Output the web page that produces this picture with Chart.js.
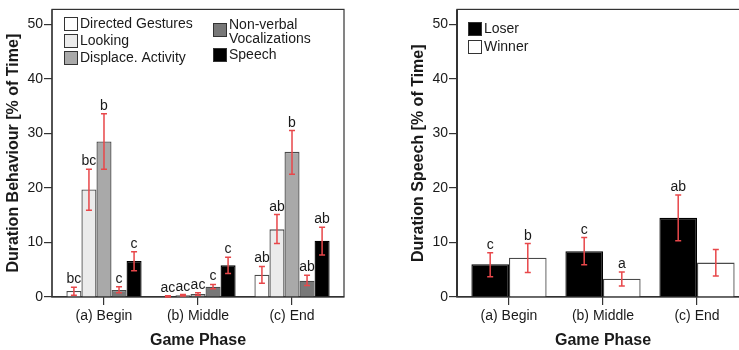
<!DOCTYPE html>
<html>
<head>
<meta charset="utf-8">
<script src="https://cdn.jsdelivr.net/npm/chart.js@4/dist/chart.umd.min.js"></script>
<style>
  html, body { margin: 0; padding: 0; background: #fff; overflow: hidden; width: 739px; height: 350px; }
  canvas { position: absolute; top: 0; }
  #c1 { left: 0; }
  #c2 { left: 405px; }
</style>
</head>
<body>
<canvas id="c1" width="370" height="350"></canvas>
<canvas id="c2" width="370" height="350"></canvas>
<script>
// ---- data ----
const phases = ['(a) Begin', '(b) Middle', '(c) End'];
const yTicks = [0, 10, 20, 30, 40, 50];

// Behaviour panel: mean duration (% of time), whisker ends, and group letters
const behaviourNames = ['Directed Gestures', 'Looking', 'Displace. Activity', 'Non-verbal Vocalizations', 'Speech'];
const directedGestures   = [1.1, 0.1, 4.1];
const directedHi         = [1.8, 0.25, 5.6];
const directedLo         = [0.3, 0.0, 2.5];
const directedLetters    = ['bc', 'ac', 'ab'];

const looking            = [19.7, 0.3, 12.4];
const lookingHi          = [23.4, 0.45, 15.1];
const lookingLo          = [15.9, 0.2, 9.8];
const lookingLetters     = ['bc', 'ac', 'ab'];

const displacement       = [28.5, 0.55, 26.6];
const displacementHi     = [33.6, 0.8, 30.5];
const displacementLo     = [23.4, 0.3, 22.5];
const displacementLetters= ['b', 'ac', 'b'];

const vocalizations      = [1.3, 1.9, 3.0];
const vocalizationsHi    = [1.9, 2.3, 4.0];
const vocalizationsLo    = [0.8, 1.5, 2.1];
const vocalizationsLetters = ['c', 'c', 'ab'];

const speech             = [6.6, 5.8, 10.3];
const speechHi           = [8.3, 7.3, 12.8];
const speechLo           = [4.8, 4.3, 7.7];
const speechLetters      = ['c', 'c', 'ab'];

// Speech panel: loser vs winner
const outcomeNames  = ['Loser', 'Winner'];
const loser         = [6.0, 8.4, 14.5];
const loserHi       = [8.1, 10.9, 18.7];
const loserLo       = [3.7, 5.9, 10.3];
const loserLetters  = ['c', 'c', 'ab'];
const winner        = [7.2, 3.35, 6.3];
const winnerHi      = [9.8, 4.6, 8.7];
const winnerLo      = [4.5, 2.0, 3.85];
const winnerLetters = ['b', 'a', ''];

// ---- styling ----
const FONT = '"Liberation Sans", Arial, Helvetica, sans-serif';
const INK = '#1a1a1a';
const EDGE = '#4a4a4a';
const ERR = '#e8474a';

// whiskers plus significance letters above each bar
const errorBars = {
  id: 'errorBars',
  afterDatasetsDraw(chart) {
    const ctx = chart.ctx;
    const y = chart.scales.y;
    ctx.save();
    chart.data.datasets.forEach((ds, i) => {
      const meta = chart.getDatasetMeta(i);
      meta.data.forEach((bar, j) => {
        const top = y.getPixelForValue(ds.errHi[j]);
        const bot = y.getPixelForValue(ds.errLo[j]);
        const x = bar.x;
        ctx.strokeStyle = ERR;
        ctx.lineWidth = 1.5;
        ctx.beginPath();
        ctx.moveTo(x, top); ctx.lineTo(x, bot);
        ctx.moveTo(x - 3, top); ctx.lineTo(x + 3, top);
        ctx.moveTo(x - 3, bot); ctx.lineTo(x + 3, bot);
        ctx.stroke();
        if (ds.letters[j]) {
          ctx.fillStyle = INK;
          ctx.font = '14px ' + FONT;
          ctx.textAlign = 'center';
          ctx.textBaseline = 'alphabetic';
          ctx.fillText(ds.letters[j], x, top - 4);
        }
      });
    });
    ctx.restore();
  }
};

// plot frame around the chart area
const frame = {
  id: 'frame',
  beforeDatasetsDraw(chart, args, opts) {
    const a = chart.chartArea;
    const ctx = chart.ctx;
    ctx.save();
    ctx.strokeStyle = '#333';
    ctx.lineWidth = 1.2;
    ctx.strokeRect(a.left, a.top, a.right - a.left, a.bottom - a.top);
    ctx.lineWidth = opts.axisWidth || 1.2;
    ctx.beginPath();
    ctx.moveTo(a.left, a.top); ctx.lineTo(a.left, a.bottom);
    ctx.stroke();
    ctx.restore();
  }
};

// a little extra room at both ends of the category axis
const categoryInset = {
  id: 'categoryInset',
  afterLayout(chart, args, opts) {
    const s = chart.scales.x;
    s._startValue -= opts.pad;
    s._valueRange += 2 * opts.pad;
  }
};

// boxed legend drawn inside the plot
const boxLegend = {
  id: 'boxLegend',
  afterDraw(chart, args, opts) {
    const ctx = chart.ctx;
    ctx.save();
    ctx.font = '14px ' + FONT;
    ctx.textBaseline = 'middle';
    ctx.textAlign = 'left';
    opts.items.forEach(it => {
      const ds = chart.data.datasets[it.index];
      ctx.fillStyle = ds.backgroundColor;
      ctx.fillRect(it.x, it.y - 7, 14, 14);
      ctx.strokeStyle = '#333';
      ctx.lineWidth = 1;
      ctx.strokeRect(it.x + 0.5, it.y - 6.5, 13, 13);
      // word-wrap the label to the column width
      const words = ds.label.split(' ');
      const lines = [];
      let cur = '';
      words.forEach(w => {
        const t = cur ? cur + ' ' + w : w;
        if (cur && ctx.measureText(t).width > it.wrap) { lines.push(cur); cur = w; }
        else cur = t;
      });
      lines.push(cur);
      ctx.fillStyle = INK;
      const first = it.y - (lines.length - 1) * 5;
      lines.forEach((ln, k) => ctx.fillText(ln, it.x + 16, first + k * 14));
    });
    ctx.restore();
  }
};

function scales(yTitle) {
  return {
    x: {
      type: 'category',
      offset: true,
      grid: { display: true, drawOnChartArea: false, offset: false, tickLength: 8, color: '#333', lineWidth: 1.2 },
      border: { display: true, color: '#333', width: 1.2 },
      ticks: { font: { family: FONT, size: 14 }, color: INK, padding: 3, maxRotation: 0 },
      title: { display: true, text: 'Game Phase', color: INK, font: { family: FONT, size: 16, weight: 'bold' }, padding: { top: 0, bottom: 0 } },
      afterFit: s => { s.height = 53; }
    },
    y: {
      min: 0,
      max: 52.7,
      afterBuildTicks: s => { s.ticks = yTicks.map(v => ({ value: v })); },
      grid: { display: true, drawOnChartArea: false, tickLength: 8, color: '#333', lineWidth: 1.2 },
      border: { display: false },
      ticks: { font: { family: FONT, size: 14 }, color: INK, padding: 1 },
      title: { display: true, text: yTitle, color: INK, font: { family: FONT, size: 16, weight: 'bold' }, padding: { top: 4, bottom: 0 } },
      afterFit: s => { s.width = 52; }
    }
  };
}

function bars(label, values, hi, lo, letters, fill, edge) {
  return {
    label, data: values, errHi: hi, errLo: lo, letters,
    backgroundColor: fill, borderColor: edge, borderWidth: 1.3,
    barPercentage: 1, categoryPercentage: 0.8
  };
}

const common = {
  responsive: false,
  animation: false,
  layout: { padding: { top: 9, right: 26, left: 0, bottom: 0 } }
};

new Chart(document.getElementById('c1'), {
  type: 'bar',
  data: {
    labels: phases,
    datasets: [
      bars(behaviourNames[0], directedGestures, directedHi, directedLo, directedLetters, '#ffffff', EDGE),
      bars(behaviourNames[1], looking, lookingHi, lookingLo, lookingLetters, '#ebebeb', EDGE),
      bars(behaviourNames[2], displacement, displacementHi, displacementLo, displacementLetters, '#a9a9a9', EDGE),
      bars(behaviourNames[3], vocalizations, vocalizationsHi, vocalizationsLo, vocalizationsLetters, '#787878', EDGE),
      bars(behaviourNames[4], speech, speechHi, speechLo, speechLetters, '#000000', '#000000')
    ]
  },
  options: Object.assign({}, common, {
    scales: scales('Duration Behaviour [% of Time]'),
    plugins: {
      legend: { display: false },
      tooltip: { enabled: false },
      categoryInset: { pad: 0.053 },
      frame: { axisWidth: 1.2 },
      boxLegend: {
        items: [
          { index: 0, x: 64, y: 24, wrap: 140 },
          { index: 1, x: 64, y: 41, wrap: 140 },
          { index: 2, x: 64, y: 58, wrap: 140 },
          { index: 3, x: 213, y: 30, wrap: 100 },
          { index: 4, x: 213, y: 55, wrap: 100 }
        ]
      }
    }
  }),
  plugins: [categoryInset, frame, errorBars, boxLegend]
});

new Chart(document.getElementById('c2'), {
  type: 'bar',
  data: {
    labels: phases,
    datasets: [
      bars(outcomeNames[0], loser, loserHi, loserLo, loserLetters, '#000000', '#000000'),
      bars(outcomeNames[1], winner, winnerHi, winnerLo, winnerLetters, '#ffffff', EDGE)
    ]
  },
  options: Object.assign({}, common, {
    scales: scales('Duration Speech [% of Time]'),
    plugins: {
      legend: { display: false },
      tooltip: { enabled: false },
      categoryInset: { pad: 0.053 },
      frame: { axisWidth: 2 },
      boxLegend: {
        items: [
          { index: 0, x: 63, y: 29, wrap: 120 },
          { index: 1, x: 63, y: 47, wrap: 120 }
        ]
      }
    }
  }),
  plugins: [categoryInset, frame, errorBars, boxLegend]
});
</script>
</body>
</html>
